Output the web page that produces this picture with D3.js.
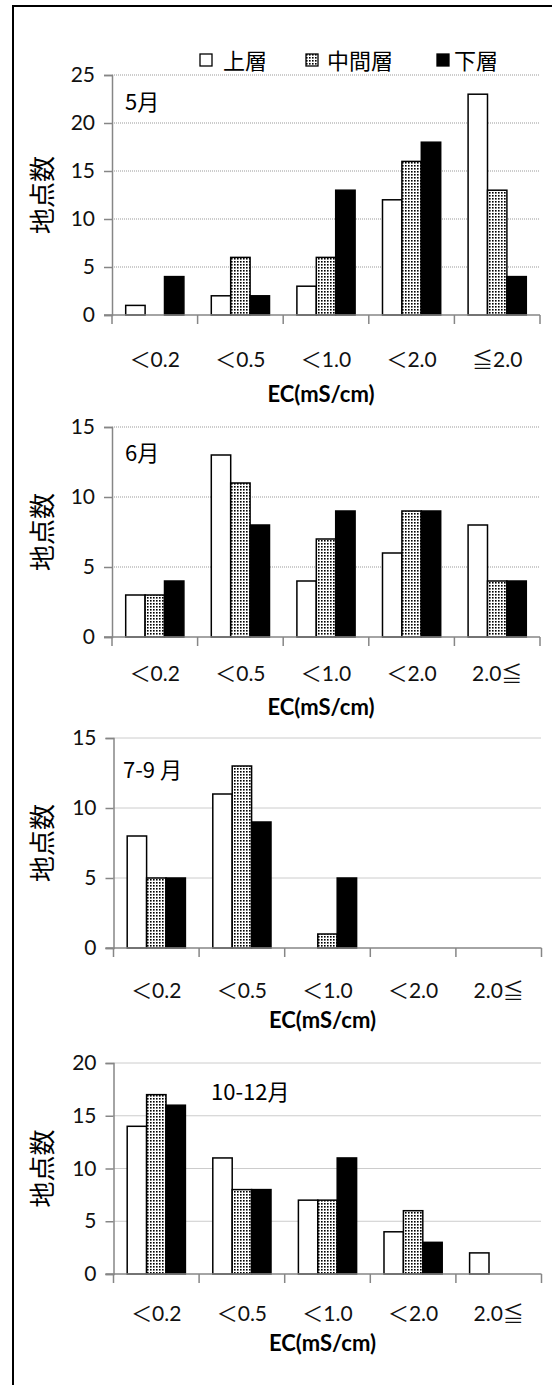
<!DOCTYPE html>
<html>
<head>
<meta charset="utf-8">
<script src="https://cdn.jsdelivr.net/npm/d3@7"></script>
<style>
  body { margin: 0; background: #fff; }
  svg { display: block; }
</style>
</head>
<body>
<script>
// data
var layers = ['上層', '中間層', '下層'];
var catsMay = ['＜0.2', '＜0.5', '＜1.0', '＜2.0', '≦2.0'];
var catsOther = ['＜0.2', '＜0.5', '＜1.0', '＜2.0', '2.0≦'];

var mayUpper = [1, 2, 3, 12, 23];
var mayMiddle = [0, 6, 6, 16, 13];
var mayLower = [4, 2, 13, 18, 4];

var junUpper = [3, 13, 4, 6, 8];
var junMiddle = [3, 11, 7, 9, 4];
var junLower = [4, 8, 9, 9, 4];

var julSepUpper = [8, 11, 0, 0, 0];
var julSepMiddle = [5, 13, 1, 0, 0];
var julSepLower = [5, 9, 5, 0, 0];

var octDecUpper = [14, 11, 7, 4, 2];
var octDecMiddle = [17, 8, 7, 6, 0];
var octDecLower = [16, 8, 11, 3, 0];

var yMaxes = [25, 15, 15, 20];
var panelLabels = ['5月', '6月', '7-9 月', '10-12月'];

var W = 552, H = 1385;
var numFont = 'Lato, "Noto Sans CJK JP", sans-serif';
var jpFont = '"Noto Sans CJK JP", sans-serif';
var axisGray = '#868686';

var svg = d3.select('body').append('svg')
  .attr('width', W)
  .attr('height', H);

// dotted fill for the middle layer
var pat = svg.append('defs').append('pattern')
  .attr('id', 'dots')
  .attr('patternUnits', 'userSpaceOnUse')
  .attr('width', 3)
  .attr('height', 3);
pat.append('rect').attr('width', 3).attr('height', 3).attr('fill', '#fff');
pat.append('rect').attr('width', 1.6).attr('height', 1.6).attr('fill', '#000');

var fills = ['#fff', 'url(#dots)', '#000'];

// frame (left + top only)
svg.append('line').attr('x1', 13).attr('y1', 6).attr('x2', 13).attr('y2', H)
  .attr('stroke', '#000').attr('stroke-width', 2);
svg.append('line').attr('x1', 12).attr('y1', 6).attr('x2', W).attr('y2', 6)
  .attr('stroke', '#000').attr('stroke-width', 2);

// legend
var legendX = [[200, 223], [306, 327], [437, 454]];
layers.forEach(function(name, i) {
  svg.append('rect')
    .attr('x', legendX[i][0]).attr('y', 54)
    .attr('width', 12).attr('height', 12)
    .attr('fill', fills[i])
    .attr('stroke', '#000').attr('stroke-width', 1.3);
  svg.append('text')
    .attr('x', legendX[i][1]).attr('y', 61)
    .attr('dy', '0.36em')
    .attr('font-family', jpFont)
    .attr('font-size', 22)
    .text(name);
});

// panel geometry
var panels = [
  { cats: catsMay, series: [mayUpper, mayMiddle, mayLower], x0: 112, x1: 540, yTop: 75, yBot: 315, tickY: 359, titleY: 394, lab: [125, 102] },
  { cats: catsOther, series: [junUpper, junMiddle, junLower], x0: 112, x1: 540, yTop: 427, yBot: 637, tickY: 673, titleY: 707, lab: [125, 453] },
  { cats: catsOther, series: [julSepUpper, julSepMiddle, julSepLower], x0: 113.5, x1: 541.5, yTop: 738, yBot: 948, tickY: 990, titleY: 1020, lab: [123, 770] },
  { cats: catsOther, series: [octDecUpper, octDecMiddle, octDecLower], x0: 113.5, x1: 541.5, yTop: 1063, yBot: 1274, tickY: 1313, titleY: 1343, lab: [211, 1092] }
];

panels.forEach(function(p, pi) {
  var g = svg.append('g');

  var x = d3.scaleBand()
    .domain(d3.range(p.cats.length))
    .range([p.x0, p.x1])
    .paddingInner(0.32)
    .paddingOuter(0.16);
  var xs = d3.scaleBand()
    .domain(d3.range(layers.length))
    .range([0, x.bandwidth()]);
  var y = d3.scaleLinear()
    .domain([0, yMaxes[pi]])
    .range([p.yBot, p.yTop]);
  var ticks = d3.range(0, yMaxes[pi] + 1, 5);

  // dotted gridlines
  g.selectAll('.grid')
    .data(ticks.filter(function(t) { return t > 0; }))
    .enter().append('line')
    .attr('x1', p.x0).attr('x2', p.x1)
    .attr('y1', function(d) { return y(d); })
    .attr('y2', function(d) { return y(d); })
    .attr('stroke', '#999')
    .attr('stroke-width', 1)
    .attr('stroke-dasharray', '1,1');

  // y axis
  var yAxis = g.append('g')
    .attr('transform', 'translate(' + p.x0 + ',0)')
    .call(d3.axisLeft(y).tickValues(ticks).tickSize(8).tickPadding(9));
  yAxis.select('.domain').attr('stroke', axisGray).attr('stroke-width', 1.5);
  yAxis.selectAll('.tick line').attr('stroke', axisGray).attr('stroke-width', 1.5);
  yAxis.selectAll('.tick text')
    .attr('font-family', numFont)
    .attr('font-size', 21)
    .attr('fill', '#111');

  // bars
  var bars = [];
  p.series.forEach(function(vals, si) {
    vals.forEach(function(v, ci) {
      bars.push({ s: si, c: ci, v: v });
    });
  });
  g.selectAll('.bar')
    .data(bars.filter(function(d) { return d.v > 0; }))
    .enter().append('rect')
    .attr('x', function(d) { return x(d.c) + xs(d.s); })
    .attr('y', function(d) { return y(d.v); })
    .attr('width', xs.bandwidth())
    .attr('height', function(d) { return y(0) - y(d.v); })
    .attr('fill', function(d) { return fills[d.s]; })
    .attr('stroke', '#000')
    .attr('stroke-width', 1.5);

  // x axis line with ticks at category boundaries
  var step = x.step();
  var bounds = d3.range(p.cats.length + 1).map(function(i) { return p.x0 + i * step; });
  g.append('line')
    .attr('x1', p.x0 - 8).attr('x2', p.x1)
    .attr('y1', y(0)).attr('y2', y(0))
    .attr('stroke', axisGray).attr('stroke-width', 1.5);
  g.selectAll('.xt')
    .data(bounds)
    .enter().append('line')
    .attr('x1', function(d) { return d; })
    .attr('x2', function(d) { return d; })
    .attr('y1', y(0)).attr('y2', y(0) + 9)
    .attr('stroke', axisGray).attr('stroke-width', 1.5);

  // category labels
  g.selectAll('.xl')
    .data(p.cats)
    .enter().append('text')
    .attr('x', function(d, i) { return x(i) + x.bandwidth() / 2; })
    .attr('y', p.tickY)
    .attr('dy', '0.36em')
    .attr('text-anchor', 'middle')
    .attr('font-family', numFont)
    .attr('font-size', 21)
    .attr('fill', '#111')
    .text(function(d) { return d; });

  // x title
  g.append('text')
    .attr('x', (p.x0 + p.x1) / 2 - 5)
    .attr('y', p.titleY)
    .attr('dy', '0.36em')
    .attr('text-anchor', 'middle')
    .attr('font-family', numFont)
    .attr('font-weight', 'bold')
    .attr('font-size', 22)
    .text('EC(mS/cm)');

  // y title
  g.append('text')
    .attr('transform', 'translate(43,' + (p.yTop + p.yBot) / 2 + ') rotate(-90)')
    .attr('dy', '0.36em')
    .attr('text-anchor', 'middle')
    .attr('font-family', jpFont)
    .attr('font-size', 26)
    .text('地点数');

  // month label
  g.append('text')
    .attr('x', p.lab[0])
    .attr('y', p.lab[1])
    .attr('dy', '0.36em')
    .attr('font-family', jpFont)
    .attr('font-size', 22)
    .text(panelLabels[pi]);
});
</script>
</body>
</html>
